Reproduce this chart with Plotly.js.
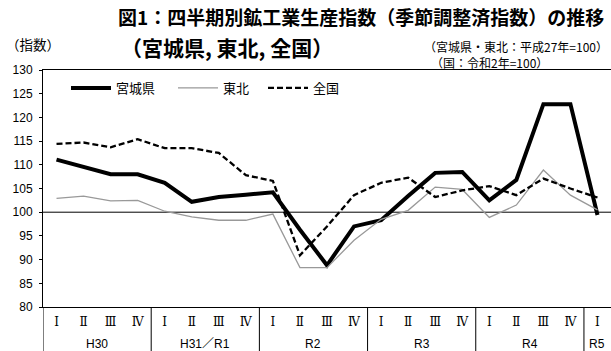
<!DOCTYPE html>
<html><head><meta charset="utf-8">
<script src="https://cdn.plot.ly/plotly-3.0.1.min.js"></script>
<style>html,body{margin:0;padding:0;background:#fff;}#chart{width:611px;height:351px;}</style>
</head><body><div id="chart"></div>
<script>
// Data
const years = ['H30', 'H31／R1', 'R2', 'R3', 'R4', 'R5'];
const quartersPerYear = [4, 4, 4, 4, 4, 1];
const quarterLabels = ['Ⅰ', 'Ⅱ', 'Ⅲ', 'Ⅳ'];
const miyagi  = [111.1, 109.5, 108.0, 108.0, 106.2, 102.2, 103.2, 103.7, 104.2, 96.3, 88.8, 97.0, 98.3, 103.4, 108.3, 108.5, 102.5, 106.8, 122.8, 122.8, 99.4];
const tohoku  = [102.9, 103.4, 102.4, 102.5, 100.2, 99.0, 98.3, 98.3, 99.6, 88.3, 88.3, 94.1, 98.5, 100.4, 105.3, 104.8, 98.9, 101.5, 108.9, 103.6, 100.5];
const zenkoku = [114.4, 114.7, 113.7, 115.4, 113.5, 113.5, 112.5, 107.8, 106.6, 90.9, 97.0, 103.6, 106.2, 107.3, 103.2, 104.6, 105.5, 103.6, 107.1, 105.0, 103.1];
const seriesNames = ['宮城県', '東北', '全国'];

// Build category positions
const xIdx = [], tickText = [], groupStarts = [];
let n = 0;
quartersPerYear.forEach(function (q) {
  groupStarts.push(n);
  for (let i = 0; i < q; i++) { xIdx.push(n); tickText.push(quarterLabels[i]); n++; }
});

const JP = 'Noto Sans CJK JP, Noto Sans, sans-serif';
const plotH = 351 - 70 - 44;

const traces = [
  { x: xIdx, y: miyagi, name: seriesNames[0], type: 'scatter', mode: 'lines', legendwidth: 52,
    line: { color: '#000000', width: 4 } },
  { x: xIdx, y: tohoku, name: seriesNames[1], type: 'scatter', mode: 'lines', legendwidth: 35,
    line: { color: '#999999', width: 1.3 } },
  { x: xIdx, y: zenkoku, name: seriesNames[2], type: 'scatter', mode: 'lines', legendwidth: 35,
    line: { color: '#000000', width: 2.3, dash: '6px,3px' } }
];

const shapes = [
  { type: 'line', xref: 'paper', x0: 0, x1: 1, yref: 'y', y0: 100, y1: 100,
    line: { color: '#000', width: 1 }, layer: 'below' }
];
groupStarts.forEach(function (s) {
  shapes.push({ type: 'line', xref: 'x', x0: s - 0.5, x1: s - 0.5, yref: 'paper', y0: 0, y1: -44 / plotH,
    line: { color: '#000', width: 1 } });
});

const annotations = [];
years.forEach(function (yr, i) {
  annotations.push({ text: yr, xref: 'x', x: groupStarts[i] + (quartersPerYear[i] - 1) / 2,
    yref: 'paper', y: 0, yanchor: 'middle', yshift: -37, showarrow: false,
    font: { family: 'Liberation Sans, Arial, ' + JP, size: 12, color: '#000' } });
});
annotations.push(
  { text: '<b>（宮城県, 東北, 全国）</b>', xref: 'paper', x: (119 - 43) / 568, xanchor: 'left',
    yref: 'paper', y: 1, yanchor: 'middle', yshift: 70 - 47, showarrow: false,
    font: { family: JP, size: 21, color: '#000' } },
  { text: '（指数）', xref: 'paper', x: (4 - 43) / 568, xanchor: 'left',
    yref: 'paper', y: 1, yanchor: 'middle', yshift: 70 - 44, showarrow: false,
    font: { family: JP, size: 13.5, color: '#000' } },
  { text: '（宮城県・東北：平成27年=100）', xref: 'paper', x: (610 - 43) / 568, xanchor: 'right',
    yref: 'paper', y: 1, yanchor: 'middle', yshift: 70 - 46, showarrow: false,
    font: { family: JP, size: 12, color: '#000' } },
  { text: '（国：令和2年=100）', xref: 'paper', x: (429 - 43) / 568, xanchor: 'left',
    yref: 'paper', y: 1, yanchor: 'middle', yshift: 70 - 62, showarrow: false,
    font: { family: JP, size: 12, color: '#000' } }
);

const layout = {
  width: 611, height: 351,
  margin: { l: 43, r: 0, t: 70, b: 44 },
  paper_bgcolor: '#ffffff', plot_bgcolor: '#ffffff',
  title: { text: '<b>図1：四半期別鉱工業生産指数（季節調整済指数）の推移</b>',
    font: { family: JP, size: 19, color: '#000' },
    xref: 'container', x: 118 / 611, xanchor: 'left',
    yref: 'container', y: 1 - 18 / 351, yanchor: 'middle' },
  showlegend: true,
  legend: { orientation: 'h', x: (66 - 43) / 568, xanchor: 'left', y: 1 - (88 - 70) / plotH, yanchor: 'middle',
    bgcolor: 'rgba(0,0,0,0)', font: { family: JP, size: 13, color: '#000' },
    itemwidth: 40, traceorder: 'normal' },
  xaxis: { range: [-0.5, n - 0.5], tickvals: xIdx, ticktext: tickText, ticks: '',
    showline: true, mirror: true, linecolor: '#000', linewidth: 1,
    showgrid: false, zeroline: false, fixedrange: true,
    tickfont: { family: 'DejaVu Serif, Liberation Serif, serif', size: 12, color: '#000' },
    ticklabelstandoff: 4 },
  yaxis: { range: [80, 130], dtick: 5, tick0: 80, ticks: 'outside', ticklen: 3, tickcolor: '#000',
    showline: true, linecolor: '#000', linewidth: 1, showgrid: false, zeroline: false,
    tickfont: { family: 'Liberation Sans, Arial, sans-serif', size: 12, color: '#000' },
    ticklabelstandoff: 4 },
  shapes: shapes,
  annotations: annotations
};

Plotly.newPlot('chart', traces, layout, { displayModeBar: false, staticPlot: true });
</script>
</body></html>
